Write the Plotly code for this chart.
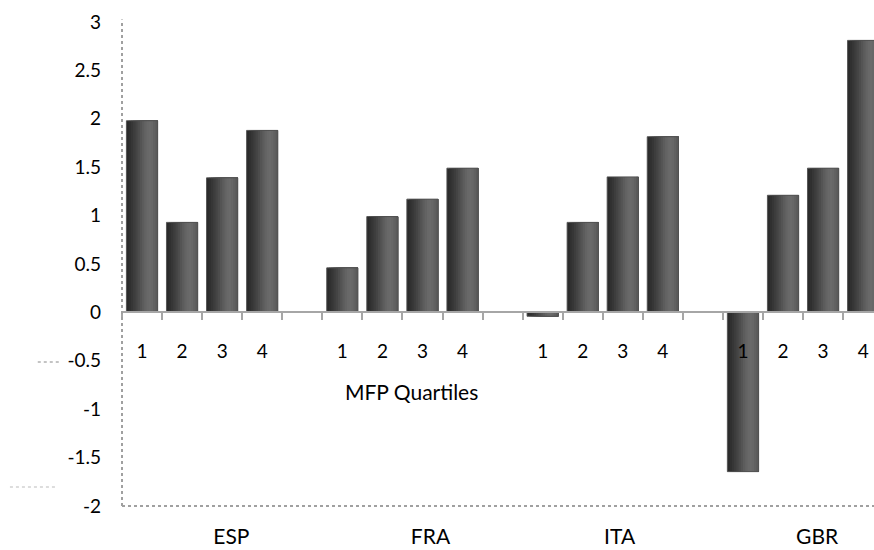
import plotly.graph_objects as go

# ---- data ----
countries = ["ESP", "FRA", "ITA", "GBR"]
quartiles = ["1", "2", "3", "4"]
esp = [1.98, 0.93, 1.39, 1.88]
fra = [0.46, 0.99, 1.17, 1.49]
ita = [-0.04, 0.93, 1.40, 1.815]
gbr = [-1.645, 1.21, 1.49, 2.81]
y_ticks = [-2, -1.5, -1, -0.5, 0, 0.5, 1, 1.5, 2, 2.5, 3]
y_ticktext = ["-2", "-1.5", "-1", "-0.5", "0", "0.5", "1", "1.5", "2", "2.5", "3"]
axis_title = "MFP Quartiles"

series = [esp, fra, ita, gbr]
slots_per_group = 5  # 4 quartiles + one empty slot

xs, ys, qlabels = [], [], []
for g, vals in enumerate(series):
    for q, v in enumerate(vals):
        xs.append(g * slots_per_group + q)
        ys.append(v)
        qlabels.append(quartiles[q])

boundaries = [i - 0.5 for i in range(0, 19)]
# country labels sit slightly right of each group's centre, as in the reference
country_pos = [g * slots_per_group + 1.5 + off for g, off in enumerate([0.73, 0.70, 0.42, 0.35])]

FONT = "Lato, 'Open Sans', sans-serif"
FS = 19
FS_BIG = 21

fig = go.Figure()

# simulate horizontal cylinder-like gradient using layered bars that all
# extend to the right edge (so no anti-aliasing seams between stripes)
bar_w = 0.78
shades = ["#2b2b2b", "#303030", "#363636", "#3d3d3d", "#444444", "#4c4c4c",
          "#545454", "#5c5c5c", "#636363", "#686868", "#6a6a6a", "#676767",
          "#616161", "#5a5a5a"]
n = len(shades)
sw = bar_w / n
for i, c in enumerate(shades):
    fig.add_trace(go.Bar(
        x=xs, y=ys, width=[bar_w - i * sw] * len(xs), offset=[-bar_w / 2 + i * sw] * len(xs),
        marker=dict(color=c, line=dict(width=0)), showlegend=False, hoverinfo="skip",
        xaxis="x", yaxis="y"))
# outline
fig.add_trace(go.Bar(
    x=xs, y=ys, width=[bar_w] * len(xs), offset=[-bar_w / 2] * len(xs),
    marker=dict(color="rgba(0,0,0,0)", line=dict(color="rgba(80,80,80,0.9)", width=1)),
    showlegend=False, hovertemplate="%{y}<extra></extra>", xaxis="x", yaxis="y"))

xrange = [-0.5, 18.27]

fig.update_layout(
    width=874, height=550,
    margin=dict(l=122, r=0, t=22, b=44, autoexpand=False),
    paper_bgcolor="white", plot_bgcolor="white",
    barmode="overlay",
    showlegend=False,
    font=dict(family=FONT, size=FS, color="#000000"),
    xaxis=dict(
        range=xrange, anchor="free", position=0.4,
        tickmode="array", tickvals=xs, ticktext=qlabels,
        ticks="", ticklabelstandoff=22,
        showline=True, linecolor="#a6a6a6", linewidth=2,
        showgrid=False, zeroline=False,
        tickfont=dict(family=FONT, size=FS, color="#000000"),
        minor=dict(tickmode="array", tickvals=boundaries, ticks="outside",
                   ticklen=7, tickwidth=2, tickcolor="#a6a6a6", showgrid=False),
        layer="above traces",
    ),
    xaxis2=dict(
        range=xrange, anchor="y", side="bottom", overlaying="x",
        tickmode="array", tickvals=country_pos, ticktext=countries,
        ticks="", ticklabelstandoff=16, showline=False, showgrid=False, zeroline=False,
        tickfont=dict(family=FONT, size=FS_BIG, color="#000000"),
    ),
    yaxis=dict(
        range=[-2, 3], tickmode="array", tickvals=y_ticks, ticktext=y_ticktext,
        ticks="", ticklabelstandoff=20, showgrid=False, zeroline=False, showline=False,
        tickfont=dict(family=FONT, size=FS, color="#000000"),
    ),
    shapes=[
        dict(type="line", xref="paper", yref="paper", x0=0, x1=0, y0=0, y1=1.005,
             line=dict(color="#a0a0a0", width=2, dash="dot")),
        dict(type="line", xref="paper", yref="paper", x0=0, x1=1, y0=0, y1=0,
             line=dict(color="#a0a0a0", width=2, dash="dot")),
        # tiny decorative marks at left
        dict(type="line", xref="paper", yref="paper", x0=-0.112, x1=-0.083,
             y0=(550 - 44 - 362) / 484, y1=(550 - 44 - 362) / 484,
             line=dict(color="#888888", width=1, dash="dot")),
        dict(type="line", xref="paper", yref="paper", x0=-0.149, x1=-0.086,
             y0=(550 - 44 - 487) / 484, y1=(550 - 44 - 487) / 484,
             line=dict(color="#bbbbbb", width=1, dash="dot")),
    ],
    annotations=[
        dict(text=axis_title, xref="x", yref="y", x=6.73, y=-0.815, showarrow=False,
             font=dict(family=FONT, size=FS_BIG, color="#000000")),
    ],
)

# dummy trace to activate xaxis2
fig.add_trace(go.Scatter(x=[None], y=[None], xaxis="x2", yaxis="y", showlegend=False))

fig.write_html("out.html", config={"displayModeBar": False},
               post_script="document.body.style.margin='0';document.body.style.padding='0';")
